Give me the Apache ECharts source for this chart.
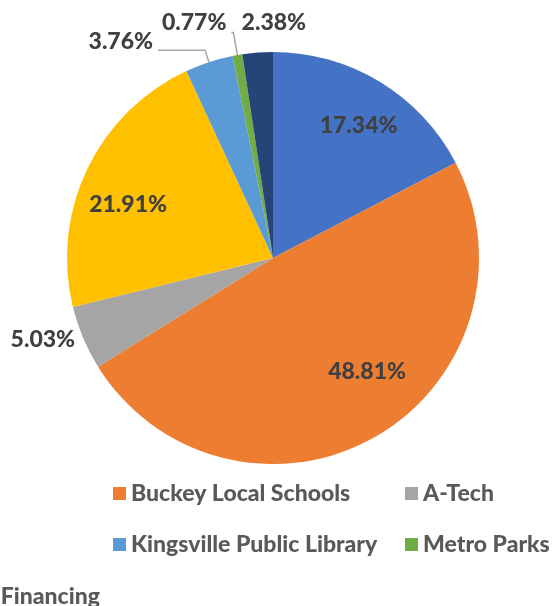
<!DOCTYPE html>
<html><head><meta charset="utf-8">
<script src="https://cdn.jsdelivr.net/npm/echarts@6/dist/echarts.min.js"></script>
<style>html,body{margin:0;padding:0;background:#fff}#c{width:559px;height:606px}</style>
</head><body><div id="c"></div>
<script>
// Data
const names = ["Kingsville Township", "Buckey Local Schools", "A-Tech", "Ashtabula County", "Kingsville Public Library", "Metro Parks", "Tax Increment Financing"];
const values = [17.34, 48.81, 5.03, 21.91, 3.76, 0.77, 2.38];
const colors = ["#4472C4", "#ED7D31", "#A5A5A5", "#FFC000", "#5B9BD5", "#70AD47", "#264478"];
const legendCol1 = ["Buckey Local Schools", "Kingsville Public Library"];
const legendCol2 = ["A-Tech", "Metro Parks"];
const cutLegendText = "Financing";

// Label styling (not data)
const FONT = "Lato";
const insideStyle = {
  "Kingsville Township": {offset: [4, 2]},
  "Buckey Local Schools": {offset: [16, -23]},
  "Ashtabula County": {offset: [-3, 15]}
};
const outsideStyle = {
  "A-Tech": {line: false, l1: 0, l2: 0, offset: [-3, 2]},
  "Kingsville Public Library": {line: true, l1: 12.6, l2: 47, offset: [0, -9]},
  "Metro Parks": {line: true, l1: 23, l2: 2, offset: [0, -10]},
  "Tax Increment Financing": {line: false, l1: 20, l2: 0, offset: [55, -10]}
};

const fmt = p => p.value.toFixed(2) + '%';
const labelText = {fontFamily: FONT, fontWeight: 900, fontSize: 23, color: '#404040'};

const mainData = names.map((n, i) => {
  const o = outsideStyle[n];
  const d = {name: n, value: values[i], itemStyle: {color: colors[i]}};
  if (o) {
    d.label = Object.assign({show: true, position: 'outside', offset: o.offset, formatter: fmt, distanceToLabelLine: 5}, labelText);
    d.labelLine = {show: o.line, length: o.l1, length2: o.l2, smooth: false, lineStyle: {color: '#A6A6A6', width: 1.5}};
  } else {
    d.label = {show: false};
    d.labelLine = {show: false};
  }
  return d;
});

const overlayData = names.map((n, i) => {
  const s = insideStyle[n];
  const d = {name: n, value: values[i]};
  d.label = s ? Object.assign({show: true, position: 'inside', offset: s.offset, formatter: fmt}, labelText) : {show: false};
  return d;
});

const chart = echarts.init(document.getElementById('c'), null, {renderer: 'canvas'});
const legendBase = {
  orient: 'vertical', itemWidth: 13, itemHeight: 13, icon: 'rect', itemGap: 28,
  selectedMode: false,
  textStyle: {fontFamily: FONT, fontWeight: 900, fontSize: 23, color: '#595959', padding: 0}
};
chart.setOption({
  animation: false,
  backgroundColor: '#fff',
  legend: [
    Object.assign({data: legendCol1, left: 108, top: 477}, legendBase),
    Object.assign({data: legendCol2, left: 400, top: 477}, legendBase)
  ],
  graphic: [{
    type: 'text', right: 459, top: 585,
    style: {text: cutLegendText, fontFamily: FONT, fontWeight: 900, fontSize: 23, fill: '#595959'}
  }],
  series: [{
    type: 'pie', center: [273, 258], radius: 206, startAngle: 90, clockwise: true,
    avoidLabelOverlap: false, silent: true,
    itemStyle: {borderWidth: 0},
    data: mainData
  }, {
    type: 'pie', center: [273, 258], radius: [103, 206], startAngle: 90, clockwise: true,
    avoidLabelOverlap: false, silent: true,
    itemStyle: {color: 'rgba(0,0,0,0)', borderWidth: 0},
    labelLine: {show: false},
    data: overlayData
  }]
});
</script></body></html>
